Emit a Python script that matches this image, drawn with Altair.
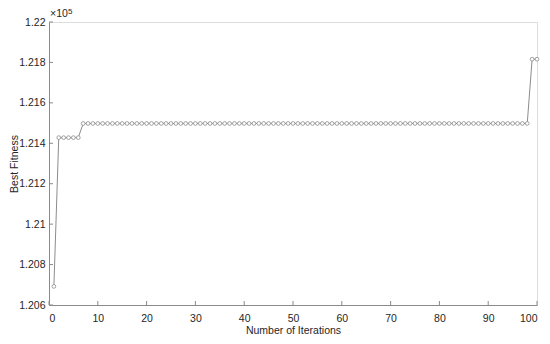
import altair as alt
import pandas as pd

iterations = list(range(1, 101))
best_fitness = [1.20692] + [1.21428] * 5 + [1.21498] * 92 + [1.21816] * 2

x_ticks = [0, 10, 20, 30, 40, 50, 60, 70, 80, 90, 100]
y_ticks = [1.206, 1.208, 1.21, 1.212, 1.214, 1.216, 1.218, 1.22]

df = pd.DataFrame({"iter": iterations, "fit": best_fitness})
dx = pd.DataFrame({"t": x_ticks})
dy = pd.DataFrame({"t": y_ticks})

W, H = 488, 283
FONT = "Liberation Sans"
GRAY = "#262626"
AX = "#8a8a8a"
LFS = 10.5

xs = alt.Scale(domain=[0, 100], nice=False)
ys = alt.Scale(domain=[1.206, 1.22], nice=False, zero=False)

line = alt.Chart(df).mark_line(
    color="#8c8c8c", strokeWidth=1,
    point=alt.OverlayMarkDef(filled=False, fill="white", stroke="#8c8c8c", size=14, strokeWidth=0.8)
).encode(
    x=alt.X("iter:Q", scale=xs, axis=alt.Axis(
        values=x_ticks, title="Number of Iterations", grid=False, ticks=False,
        domainColor=AX, labelColor=GRAY, labelFont=FONT, labelFontSize=LFS,
        labelPadding=8, titleFont=FONT, titleFontSize=10.5, titleFontWeight="normal",
        titleColor=GRAY, titleX=W / 2, titleY=28.5, titleAlign="center",
        titleBaseline="alphabetic")),
    y=alt.Y("fit:Q", scale=ys, axis=alt.Axis(
        values=y_ticks, format="~g", title="Best Fitness", grid=False, ticks=False,
        domainColor=AX, labelColor=GRAY, labelFont=FONT, labelFontSize=LFS,
        labelPadding=4, titleFont=FONT, titleFontSize=10.5, titleFontWeight="normal",
        titleColor=GRAY, titleX=-31.5, titleY=H / 2, titleAngle=-90,
        titleAlign="center", titleBaseline="alphabetic")),
)

xt = alt.Chart(dx).mark_rule(color=AX, strokeWidth=1).encode(
    x=alt.X("t:Q", scale=xs), y=alt.value(H), y2=alt.value(H - 4))
yt = alt.Chart(dy).mark_rule(color=AX, strokeWidth=1).encode(
    y=alt.Y("t:Q", scale=ys), x=alt.value(0), x2=alt.value(4))

exp_base = alt.Chart(pd.DataFrame({"s": ["×10"]})).mark_text(
    font=FONT, fontSize=LFS, color=GRAY, align="left", baseline="alphabetic"
).encode(text="s:N", x=alt.value(1), y=alt.value(-5))
exp_sup = alt.Chart(pd.DataFrame({"s": ["5"]})).mark_text(
    font=FONT, fontSize=8, color=GRAY, align="left", baseline="alphabetic"
).encode(text="s:N", x=alt.value(19), y=alt.value(-8))

chart = alt.layer(line, xt, yt, exp_base, exp_sup).properties(
    width=W, height=H,
    autosize=alt.AutoSizeParams(type="none"),
    padding={"left": 41, "top": 14, "right": 5, "bottom": 31},
).configure_view(stroke=None).configure(background="white")

chart.save("out.html", embed_options={"renderer": "svg", "actions": False})
